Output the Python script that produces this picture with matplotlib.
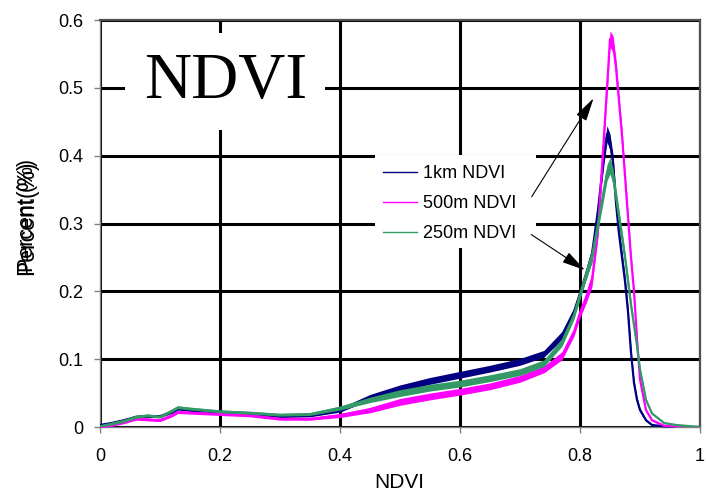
"""NDVI histogram at three resolutions (1km / 500m / 250m)."""
import matplotlib
matplotlib.use("Agg")
import matplotlib.pyplot as plt
from matplotlib.patches import Rectangle

# ------------------------------------------------------------------
# data (percent of pixels per NDVI value)
# ------------------------------------------------------------------
ndvi = [0.0, 0.02, 0.04, 0.06, 0.08, 0.10, 0.12, 0.13, 0.15, 0.20, 0.25,
        0.30, 0.35, 0.40, 0.45, 0.50, 0.55, 0.60, 0.65, 0.70, 0.74, 0.77,
        0.79, 0.80, 0.81, 0.82, 0.83, 0.84, 0.845, 0.85, 0.855, 0.86,
        0.865, 0.87, 0.875, 0.88, 0.885, 0.89, 0.895, 0.90, 0.91, 0.92,
        0.94, 0.96, 1.0]

pct_1km = [0.003, 0.006, 0.010, 0.015, 0.016, 0.016, 0.022, 0.027, 0.025,
           0.022, 0.020, 0.016, 0.017, 0.025, 0.044, 0.057, 0.068, 0.077,
           0.086, 0.096, 0.108, 0.135, 0.170, 0.197, 0.225, 0.255, 0.320,
           0.400, 0.432, 0.420, 0.390, 0.330, 0.285, 0.250, 0.215, 0.170,
           0.110, 0.065, 0.040, 0.025, 0.010, 0.003, 0.001, 0.0, 0.0]

pct_500m = [0.0, 0.003, 0.007, 0.012, 0.011, 0.010, 0.017, 0.022, 0.021,
            0.019, 0.017, 0.012, 0.012, 0.017, 0.025, 0.037, 0.045, 0.052,
            0.060, 0.071, 0.085, 0.105, 0.140, 0.168, 0.190, 0.217, 0.290,
            0.430, 0.500, 0.572, 0.565, 0.530, 0.480, 0.430, 0.370, 0.310,
            0.250, 0.200, 0.130, 0.070, 0.025, 0.010, 0.002, 0.0, 0.0]

pct_250m = [0.001, 0.005, 0.009, 0.015, 0.017, 0.015, 0.024, 0.029, 0.027,
            0.023, 0.021, 0.018, 0.019, 0.028, 0.040, 0.050, 0.058, 0.064,
            0.072, 0.081, 0.094, 0.125, 0.165, 0.195, 0.225, 0.252, 0.300,
            0.350, 0.375, 0.385, 0.370, 0.340, 0.310, 0.280, 0.250, 0.215,
            0.180, 0.150, 0.120, 0.085, 0.040, 0.020, 0.006, 0.003, 0.0]

# half-height of the jitter band seen around each curve
jitter = [0.001, 0.002, 0.002, 0.002, 0.002, 0.002, 0.002, 0.002, 0.002,
          0.002, 0.002, 0.002, 0.002, 0.003, 0.004, 0.005, 0.005, 0.005,
          0.005, 0.005, 0.005, 0.006, 0.006, 0.007, 0.008, 0.010, 0.010,
          0.012, 0.012, 0.012, 0.012, 0.012, 0.010, 0.010, 0.008, 0.008,
          0.006, 0.005, 0.004, 0.003, 0.002, 0.001, 0.001, 0.0, 0.0]

series = [("1km NDVI", pct_1km, "#000080"),
          ("500m NDVI", pct_500m, "#FF00FF"),
          ("250m NDVI", pct_250m, "#339966")]

x_ticks = [0, 0.2, 0.4, 0.6, 0.8, 1.0]
x_tick_labels = ["0", "0.2", "0.4", "0.6", "0.8", "1"]
y_ticks = [0, 0.1, 0.2, 0.3, 0.4, 0.5, 0.6]
y_tick_labels = ["0", "0.1", "0.2", "0.3", "0.4", "0.5", "0.6"]

plt.rcParams["font.family"] = ["Liberation Sans", "DejaVu Sans"]

fig = plt.figure(figsize=(7.06, 4.91), dpi=100)
ax = fig.add_axes([100 / 706, 64 / 491, 600 / 706, 407 / 491])

for name, vals, color in series:
    lo = [v - j for v, j in zip(vals, jitter)]
    hi = [v + j for v, j in zip(vals, jitter)]
    ax.fill_between(ndvi, lo, hi, color=color, lw=0, zorder=3)
    ax.plot(ndvi, vals, color=color, lw=1.6, label=name, zorder=3)

ax.set_xlim(0, 1)
ax.set_ylim(0, 0.6)
ax.set_xticks(x_ticks)
ax.set_xticklabels(x_tick_labels)
ax.set_yticks(y_ticks)
ax.set_yticklabels(y_tick_labels)
ax.tick_params(axis="both", direction="out", length=4, width=1,
               color="#808080", labelsize=13)
ax.tick_params(axis="x", pad=11)
ax.tick_params(axis="y", pad=8)

ax.grid(True, color="black", lw=2.2)
ax.set_axisbelow(True)
for side in ("left", "bottom"):
    ax.spines[side].set_color("#808080")
    ax.spines[side].set_linewidth(1)
for side in ("top", "right"):
    ax.spines[side].set_color("#505050")
    ax.spines[side].set_linewidth(1.6)

# white boxes behind the title and the legend
ax.add_patch(Rectangle((0.0417, 0.730), 0.333, 0.238, transform=ax.transAxes,
                       facecolor="white", edgecolor="none", zorder=2))
ax.add_patch(Rectangle((0.458, 0.440), 0.268, 0.2285, transform=ax.transAxes,
                       facecolor="white", edgecolor="none", zorder=2))

ax.text(0.21, 0.508, "NDVI", family=["Liberation Serif", "DejaVu Serif"],
        fontsize=47, ha="center", va="center", zorder=4)

leg = ax.legend(loc="upper left", bbox_to_anchor=(0.455, 0.668), fontsize=13,
                frameon=False, handlelength=1.9, handletextpad=0.33,
                labelspacing=0.72, borderpad=0.55, borderaxespad=0)
for line in leg.get_lines():
    line.set_linewidth(1.0)
leg.set_zorder(5)

arrow = dict(arrowstyle="-|>,head_length=0.8,head_width=0.2",
             mutation_scale=18, color="black", lw=0.8)
ax.annotate("", xy=(0.825, 0.488), xytext=(0.717, 0.336),
            arrowprops=arrow, zorder=6)
ax.annotate("", xy=(0.812, 0.229), xytext=(0.715, 0.286),
            arrowprops=arrow, zorder=6)

# the y label is printed twice, slightly offset, as in the source
fig.text(27 / 706, 1 - 215 / 491, "Percent (%)", rotation=90, fontsize=15.5,
         ha="center", va="center")
fig.text(27 / 706, 1 - 218 / 491, "Percent(%)", rotation=90, fontsize=16.5,
         ha="center", va="center")

fig.text(399 / 706, 1 - 483 / 491, "NDVI", fontsize=15, ha="center",
         va="center")

fig.savefig("out.png", dpi=100)
